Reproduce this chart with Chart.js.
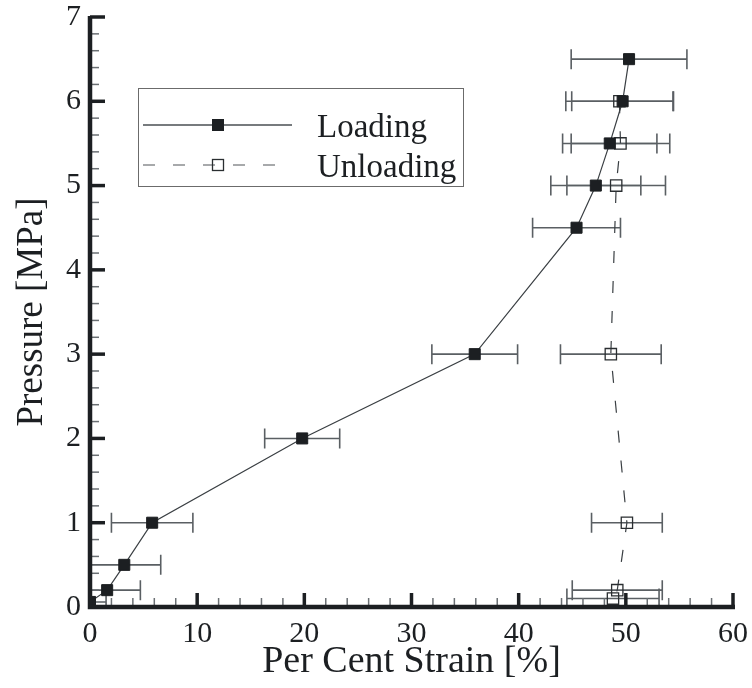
<!DOCTYPE html>
<html>
<head>
<meta charset="utf-8">
<script src="https://cdn.jsdelivr.net/npm/chart.js@4/dist/chart.umd.min.js"></script>
<style>
  html, body { margin: 0; padding: 0; background: #fff; }
  canvas { display: block; }
</style>
</head>
<body>
<canvas id="chart" width="752" height="688"></canvas>
<script>
// values
const strainTicks = [0, 10, 20, 30, 40, 50, 60];
const pressureTicks = [0, 1, 2, 3, 4, 5, 6, 7];

const loadStrain   = [0.0, 1.6, 3.2, 5.8, 19.8, 35.9, 45.4, 47.2, 48.5, 49.7, 50.3];
const loadPressure = [0.06, 0.2, 0.5, 1.0, 2.0, 3.0, 4.5, 5.0, 5.5, 6.0, 6.5];
const loadErr      = [1.5, 3.1, 3.4, 3.8, 3.5, 4.0, 4.1, 4.2, 4.4, 4.75, 5.4];

const unloadStrain   = [49.4, 49.5, 49.1, 48.6, 50.1, 49.2, 48.8];
const unloadPressure = [6.0, 5.5, 5.0, 3.0, 1.0, 0.2, 0.1];
const unloadErr      = [5.0, 4.6, 4.6, 4.7, 3.3, 4.2, 4.3];

const serif = "'Liberation Serif', 'Times New Roman', serif";
Chart.defaults.font.family = serif;
Chart.defaults.color = '#1c1f22';

const toPoints = (xs, ys) => xs.map((x, i) => ({ x: x, y: ys[i] }));

// horizontal error bars with caps
const errorBars = {
  id: 'errorBars',
  beforeDatasetsDraw(chart) {
    const { ctx, chartArea, scales: { x, y } } = chart;
    const sets = [
      [loadStrain, loadPressure, loadErr],
      [unloadStrain, unloadPressure, unloadErr],
    ];
    ctx.save();
    ctx.beginPath();
    ctx.rect(chartArea.left, chartArea.top - 20, chartArea.right - chartArea.left + 20, chartArea.bottom - chartArea.top + 20);
    ctx.clip();
    ctx.strokeStyle = '#5a5f63';
    ctx.lineWidth = 1.6;
    sets.forEach(([xs, ys, es]) => {
      xs.forEach((v, i) => {
        const py = y.getPixelForValue(ys[i]);
        const x1 = x.getPixelForValue(v - es[i]);
        const x2 = x.getPixelForValue(v + es[i]);
        ctx.beginPath();
        ctx.moveTo(x1, py); ctx.lineTo(x2, py);
        ctx.moveTo(x1, py - 10); ctx.lineTo(x1, py + 10);
        ctx.moveTo(x2, py - 10); ctx.lineTo(x2, py + 10);
        ctx.stroke();
      });
    });
    ctx.restore();
  }
};

// thick axis lines with inward major and minor ticks
const axes = {
  id: 'axes',
  afterDatasetsDraw(chart) {
    const { ctx, chartArea: a, scales: { x, y } } = chart;
    ctx.save();
    // minor ticks
    ctx.strokeStyle = '#6b7074';
    ctx.lineWidth = 1.5;
    for (let v = 0; v <= 60.001; v += 2) {
      if (v % 10 === 0) continue;
      const px = x.getPixelForValue(v);
      ctx.beginPath(); ctx.moveTo(px, a.bottom); ctx.lineTo(px, a.bottom - 9); ctx.stroke();
    }
    for (let i = 0; i <= 35; i++) {
      if (i % 5 === 0) continue;
      const py = y.getPixelForValue(i * 0.2);
      ctx.beginPath(); ctx.moveTo(a.left, py); ctx.lineTo(a.left + 9, py); ctx.stroke();
    }
    // major ticks
    ctx.strokeStyle = '#1c1f22';
    ctx.lineWidth = 3.5;
    strainTicks.forEach(v => {
      const px = x.getPixelForValue(v);
      ctx.beginPath(); ctx.moveTo(px, a.bottom); ctx.lineTo(px, a.bottom - 14); ctx.stroke();
    });
    pressureTicks.forEach(v => {
      const py = y.getPixelForValue(v);
      ctx.beginPath(); ctx.moveTo(a.left, py); ctx.lineTo(a.left + 15, py); ctx.stroke();
    });
    // axis lines
    ctx.lineWidth = 4.5;
    ctx.beginPath();
    ctx.moveTo(a.left, a.top - 1);
    ctx.lineTo(a.left, a.bottom);
    ctx.lineTo(a.right + 2, a.bottom);
    ctx.stroke();
    ctx.restore();
  }
};

// boxed legend drawn with the dataset styles
const boxLegend = {
  id: 'boxLegend',
  afterDraw(chart) {
    const { ctx } = chart;
    const ds = chart.data.datasets;
    ctx.save();
    ctx.strokeStyle = '#6b6b6b';
    ctx.lineWidth = 1;
    ctx.strokeRect(138.5, 88.5, 325, 98);
    const rows = [
      { y: 125, set: ds[0], dash: [] },
      { y: 165, set: ds[1], dash: [12, 18] },
    ];
    rows.forEach(r => {
      ctx.strokeStyle = r.dash.length ? '#8a8d90' : '#4a4f53';
      ctx.lineWidth = 1.3;
      ctx.setLineDash(r.dash);
      ctx.beginPath(); ctx.moveTo(143, r.y); ctx.lineTo(292, r.y); ctx.stroke();
      ctx.setLineDash([]);
      const s = 11;
      ctx.fillStyle = r.set.pointBackgroundColor;
      ctx.fillRect(218 - s / 2, r.y - s / 2, s, s);
      ctx.strokeStyle = r.set.pointBorderColor;
      ctx.lineWidth = r.set.pointBorderWidth;
      ctx.strokeRect(218 - s / 2, r.y - s / 2, s, s);
      ctx.fillStyle = '#1c1f22';
      ctx.font = '33px ' + serif;
      ctx.textBaseline = 'alphabetic';
      ctx.fillText(r.set.label, 317, r.y + 12);
    });
    ctx.restore();
  }
};

new Chart(document.getElementById('chart'), {
  type: 'scatter',
  data: {
    datasets: [
      {
        label: 'Loading',
        data: toPoints(loadStrain, loadPressure),
        showLine: true,
        borderColor: '#3a3f43',
        borderWidth: 1.2,
        pointStyle: 'rect',
        pointRadius: 7.8,
        pointBackgroundColor: '#1c1f22',
        pointBorderColor: '#1c1f22',
        pointBorderWidth: 1,
      },
      {
        label: 'Unloading',
        data: toPoints(unloadStrain, unloadPressure),
        showLine: true,
        borderColor: '#3a3f43',
        borderWidth: 1.2,
        borderDash: [12, 18],
        pointStyle: 'rect',
        pointRadius: 8,
        pointBackgroundColor: 'rgba(255,255,255,0)',
        pointBorderColor: '#2a2e31',
        pointBorderWidth: 1.3,
      },
    ],
  },
  options: {
    responsive: false,
    animation: false,
    layout: { padding: { top: 17, right: 19, left: 0, bottom: 0 } },
    plugins: {
      legend: { display: false },
      tooltip: { enabled: false },
    },
    scales: {
      x: {
        type: 'linear',
        min: 0,
        max: 60,
        afterFit: s => { s.height = 81; s.paddingLeft = 0; s.paddingRight = 0; },
        afterBuildTicks: s => { s.ticks = strainTicks.map(v => ({ value: v })); },
        grid: { display: false, drawTicks: false },
        border: { display: false },
        ticks: { padding: 9, color: '#1c1f22', font: { family: serif, size: 30 } },
        title: {
          display: true,
          text: 'Per Cent Strain [%]',
          color: '#1c1f22',
          font: { family: serif, size: 38 },
          padding: { top: 0, bottom: 3 },
        },
      },
      y: {
        type: 'linear',
        min: 0,
        max: 7,
        afterFit: s => { s.width = 90; s.paddingTop = 0; s.paddingBottom = 0; },
        afterBuildTicks: s => { s.ticks = pressureTicks.map(v => ({ value: v })); },
        grid: { display: false, drawTicks: false },
        border: { display: false },
        ticks: { padding: 9, color: '#1c1f22', font: { family: serif, size: 30 } },
        title: {
          display: true,
          text: 'Pressure [MPa]',
          color: '#1c1f22',
          font: { family: serif, size: 37 },
          padding: { top: 10, bottom: 0 },
        },
      },
    },
  },
  plugins: [errorBars, axes, boxLegend],
});
</script>
</body>
</html>
